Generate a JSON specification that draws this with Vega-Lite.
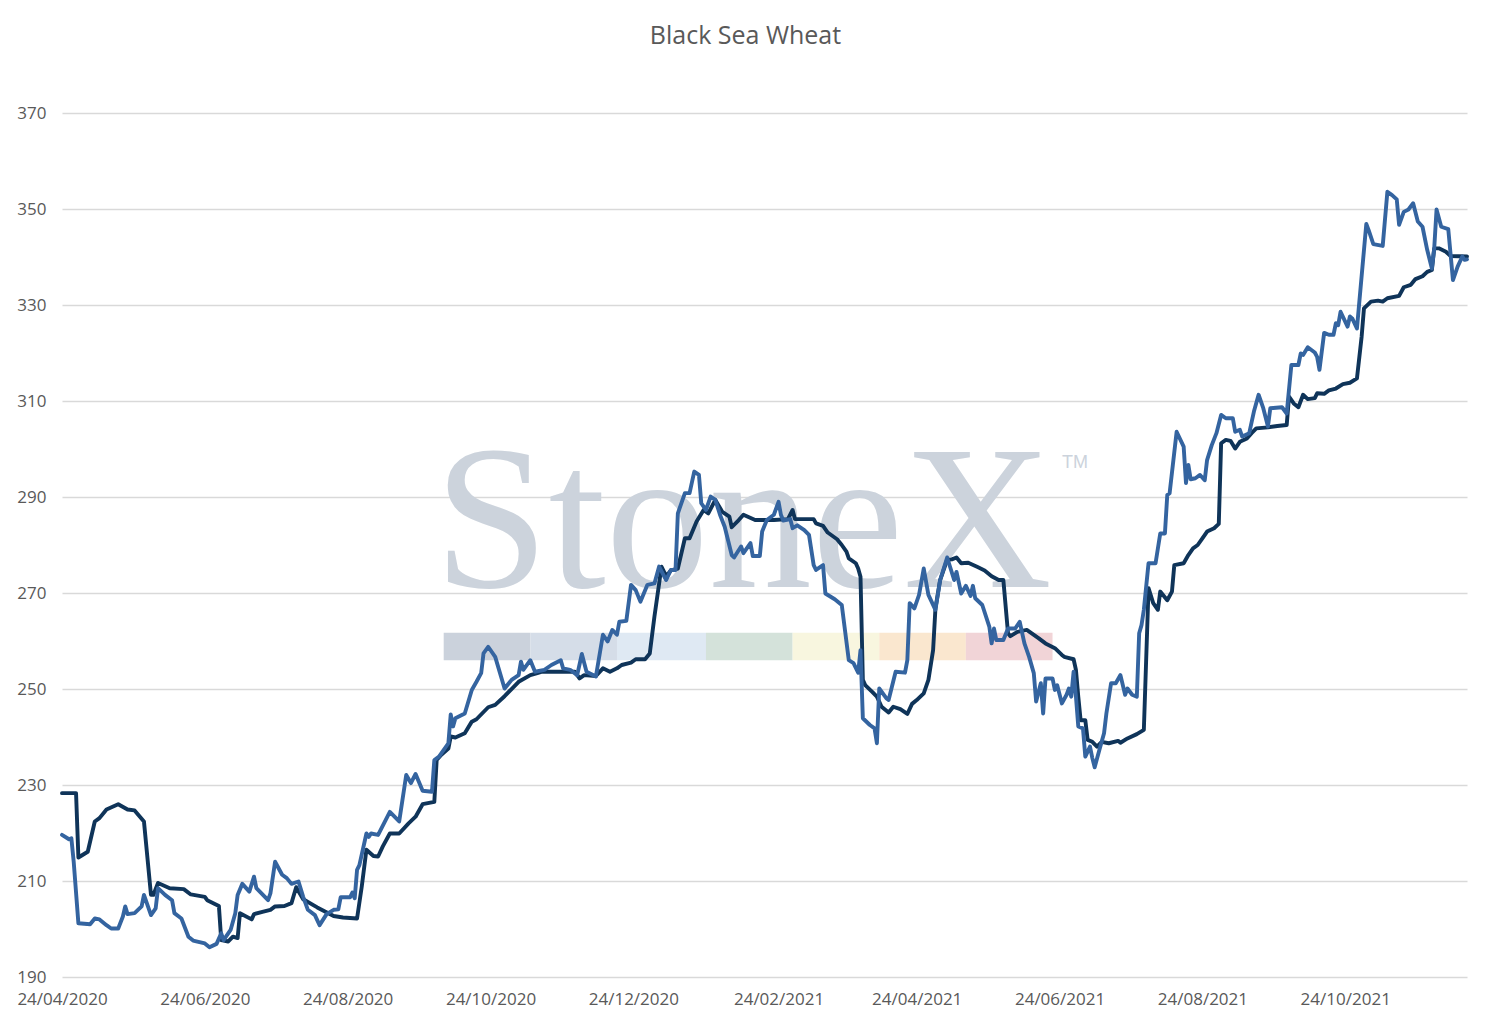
{
  "$schema": "https://vega.github.io/schema/vega-lite/v6.json",
  "width": 1405,
  "height": 864,
  "autosize": {"type": "none"},
  "padding": {"left": 62, "top": 113, "right": 24, "bottom": 50},
  "background": "white",
  "title": {"text": "Black Sea Wheat", "font": "Open Sans", "fontSize": 25, "fontWeight": "normal", "color": "#595959", "anchor": "middle", "dx": -19, "offset": 55},
  "config": {
    "view": {"stroke": null},
    "axis": {"labelFont": "Open Sans", "labelFontSize": 17, "labelColor": "#595959", "gridColor": "#d9d9d9", "gridWidth": 1.5, "domain": false, "ticks": false}
  },
  "resolve": {"scale": {"color": "independent"}},
  "datasets": {
    "band": [
      {"seg": "1", "start": "2020-10-04", "end": "2020-11-10"},
      {"seg": "2", "start": "2020-11-10", "end": "2020-12-17"},
      {"seg": "3", "start": "2020-12-17", "end": "2021-01-24"},
      {"seg": "4", "start": "2021-01-24", "end": "2021-03-02"},
      {"seg": "5", "start": "2021-03-02", "end": "2021-04-08"},
      {"seg": "6", "start": "2021-04-08", "end": "2021-05-15"},
      {"seg": "7", "start": "2021-05-15", "end": "2021-06-21"}
    ],
    "prices": [
      {"date": "2020-04-24", "series": "Series 1", "price": 228.3},
      {"date": "2020-04-30", "series": "Series 1", "price": 228.3},
      {"date": "2020-05-01", "series": "Series 1", "price": 214.9},
      {"date": "2020-05-05", "series": "Series 1", "price": 216.1},
      {"date": "2020-05-08", "series": "Series 1", "price": 222.4},
      {"date": "2020-05-10", "series": "Series 1", "price": 223.1},
      {"date": "2020-05-13", "series": "Series 1", "price": 224.9},
      {"date": "2020-05-18", "series": "Series 1", "price": 226.0},
      {"date": "2020-05-22", "series": "Series 1", "price": 224.9},
      {"date": "2020-05-25", "series": "Series 1", "price": 224.7},
      {"date": "2020-05-29", "series": "Series 1", "price": 222.4},
      {"date": "2020-06-01", "series": "Series 1", "price": 207.1},
      {"date": "2020-06-02", "series": "Series 1", "price": 207.1},
      {"date": "2020-06-04", "series": "Series 1", "price": 209.6},
      {"date": "2020-06-09", "series": "Series 1", "price": 208.5},
      {"date": "2020-06-15", "series": "Series 1", "price": 208.3},
      {"date": "2020-06-18", "series": "Series 1", "price": 207.2},
      {"date": "2020-06-24", "series": "Series 1", "price": 206.7},
      {"date": "2020-06-25", "series": "Series 1", "price": 206.0},
      {"date": "2020-06-30", "series": "Series 1", "price": 204.8},
      {"date": "2020-07-01", "series": "Series 1", "price": 197.7},
      {"date": "2020-07-04", "series": "Series 1", "price": 197.4},
      {"date": "2020-07-06", "series": "Series 1", "price": 198.4},
      {"date": "2020-07-08", "series": "Series 1", "price": 198.1},
      {"date": "2020-07-09", "series": "Series 1", "price": 203.3},
      {"date": "2020-07-14", "series": "Series 1", "price": 202.0},
      {"date": "2020-07-15", "series": "Series 1", "price": 203.1},
      {"date": "2020-07-19", "series": "Series 1", "price": 203.6},
      {"date": "2020-07-22", "series": "Series 1", "price": 204.0},
      {"date": "2020-07-24", "series": "Series 1", "price": 204.7},
      {"date": "2020-07-28", "series": "Series 1", "price": 204.8},
      {"date": "2020-07-31", "series": "Series 1", "price": 205.4},
      {"date": "2020-08-02", "series": "Series 1", "price": 208.7},
      {"date": "2020-08-05", "series": "Series 1", "price": 206.2},
      {"date": "2020-08-11", "series": "Series 1", "price": 204.5},
      {"date": "2020-08-18", "series": "Series 1", "price": 202.7},
      {"date": "2020-08-22", "series": "Series 1", "price": 202.4},
      {"date": "2020-08-28", "series": "Series 1", "price": 202.2},
      {"date": "2020-08-30", "series": "Series 1", "price": 208.8},
      {"date": "2020-09-01", "series": "Series 1", "price": 216.5},
      {"date": "2020-09-04", "series": "Series 1", "price": 215.2},
      {"date": "2020-09-06", "series": "Series 1", "price": 215.1},
      {"date": "2020-09-08", "series": "Series 1", "price": 217.2},
      {"date": "2020-09-11", "series": "Series 1", "price": 219.9},
      {"date": "2020-09-15", "series": "Series 1", "price": 219.9},
      {"date": "2020-09-19", "series": "Series 1", "price": 222.0},
      {"date": "2020-09-22", "series": "Series 1", "price": 223.4},
      {"date": "2020-09-25", "series": "Series 1", "price": 226.0},
      {"date": "2020-09-30", "series": "Series 1", "price": 226.5},
      {"date": "2020-10-01", "series": "Series 1", "price": 235.2},
      {"date": "2020-10-03", "series": "Series 1", "price": 236.3},
      {"date": "2020-10-06", "series": "Series 1", "price": 237.6},
      {"date": "2020-10-07", "series": "Series 1", "price": 240.1},
      {"date": "2020-10-09", "series": "Series 1", "price": 239.9},
      {"date": "2020-10-13", "series": "Series 1", "price": 240.8},
      {"date": "2020-10-16", "series": "Series 1", "price": 243.2},
      {"date": "2020-10-18", "series": "Series 1", "price": 243.7},
      {"date": "2020-10-23", "series": "Series 1", "price": 246.2},
      {"date": "2020-10-26", "series": "Series 1", "price": 246.7},
      {"date": "2020-10-30", "series": "Series 1", "price": 248.5},
      {"date": "2020-11-05", "series": "Series 1", "price": 251.5},
      {"date": "2020-11-10", "series": "Series 1", "price": 252.9},
      {"date": "2020-11-13", "series": "Series 1", "price": 253.3},
      {"date": "2020-11-15", "series": "Series 1", "price": 253.6},
      {"date": "2020-11-29", "series": "Series 1", "price": 253.6},
      {"date": "2020-12-01", "series": "Series 1", "price": 252.2},
      {"date": "2020-12-03", "series": "Series 1", "price": 252.9},
      {"date": "2020-12-08", "series": "Series 1", "price": 252.7},
      {"date": "2020-12-11", "series": "Series 1", "price": 254.3},
      {"date": "2020-12-14", "series": "Series 1", "price": 253.6},
      {"date": "2020-12-17", "series": "Series 1", "price": 254.3},
      {"date": "2020-12-19", "series": "Series 1", "price": 255.0},
      {"date": "2020-12-23", "series": "Series 1", "price": 255.5},
      {"date": "2020-12-25", "series": "Series 1", "price": 256.2},
      {"date": "2020-12-29", "series": "Series 1", "price": 256.2},
      {"date": "2020-12-31", "series": "Series 1", "price": 257.4},
      {"date": "2021-01-02", "series": "Series 1", "price": 265.1},
      {"date": "2021-01-04", "series": "Series 1", "price": 272.0},
      {"date": "2021-01-05", "series": "Series 1", "price": 275.5},
      {"date": "2021-01-07", "series": "Series 1", "price": 273.5},
      {"date": "2021-01-09", "series": "Series 1", "price": 274.7},
      {"date": "2021-01-12", "series": "Series 1", "price": 275.1},
      {"date": "2021-01-15", "series": "Series 1", "price": 281.4},
      {"date": "2021-01-17", "series": "Series 1", "price": 281.4},
      {"date": "2021-01-20", "series": "Series 1", "price": 284.9},
      {"date": "2021-01-23", "series": "Series 1", "price": 287.3},
      {"date": "2021-01-25", "series": "Series 1", "price": 286.6},
      {"date": "2021-01-28", "series": "Series 1", "price": 289.4},
      {"date": "2021-01-31", "series": "Series 1", "price": 286.9},
      {"date": "2021-02-03", "series": "Series 1", "price": 285.9},
      {"date": "2021-02-04", "series": "Series 1", "price": 283.7},
      {"date": "2021-02-07", "series": "Series 1", "price": 285.2},
      {"date": "2021-02-09", "series": "Series 1", "price": 286.3},
      {"date": "2021-02-14", "series": "Series 1", "price": 285.2},
      {"date": "2021-02-18", "series": "Series 1", "price": 285.2},
      {"date": "2021-02-22", "series": "Series 1", "price": 285.2},
      {"date": "2021-02-28", "series": "Series 1", "price": 285.4},
      {"date": "2021-03-02", "series": "Series 1", "price": 287.3},
      {"date": "2021-03-03", "series": "Series 1", "price": 285.4},
      {"date": "2021-03-06", "series": "Series 1", "price": 285.4},
      {"date": "2021-03-11", "series": "Series 1", "price": 285.4},
      {"date": "2021-03-12", "series": "Series 1", "price": 284.5},
      {"date": "2021-03-15", "series": "Series 1", "price": 284.0},
      {"date": "2021-03-17", "series": "Series 1", "price": 282.6},
      {"date": "2021-03-21", "series": "Series 1", "price": 281.2},
      {"date": "2021-03-23", "series": "Series 1", "price": 280.0},
      {"date": "2021-03-25", "series": "Series 1", "price": 278.6},
      {"date": "2021-03-26", "series": "Series 1", "price": 277.2},
      {"date": "2021-03-29", "series": "Series 1", "price": 276.2},
      {"date": "2021-03-30", "series": "Series 1", "price": 275.1},
      {"date": "2021-03-31", "series": "Series 1", "price": 273.4},
      {"date": "2021-04-01", "series": "Series 1", "price": 251.9},
      {"date": "2021-04-02", "series": "Series 1", "price": 250.8},
      {"date": "2021-04-05", "series": "Series 1", "price": 249.4},
      {"date": "2021-04-07", "series": "Series 1", "price": 248.4},
      {"date": "2021-04-09", "series": "Series 1", "price": 246.3},
      {"date": "2021-04-12", "series": "Series 1", "price": 245.1},
      {"date": "2021-04-14", "series": "Series 1", "price": 246.3},
      {"date": "2021-04-17", "series": "Series 1", "price": 245.8},
      {"date": "2021-04-20", "series": "Series 1", "price": 244.8},
      {"date": "2021-04-22", "series": "Series 1", "price": 246.9},
      {"date": "2021-04-24", "series": "Series 1", "price": 247.7},
      {"date": "2021-04-27", "series": "Series 1", "price": 249.1},
      {"date": "2021-04-29", "series": "Series 1", "price": 251.9},
      {"date": "2021-05-01", "series": "Series 1", "price": 258.1},
      {"date": "2021-05-02", "series": "Series 1", "price": 266.8},
      {"date": "2021-05-04", "series": "Series 1", "price": 272.7},
      {"date": "2021-05-07", "series": "Series 1", "price": 276.9},
      {"date": "2021-05-09", "series": "Series 1", "price": 277.0},
      {"date": "2021-05-11", "series": "Series 1", "price": 277.4},
      {"date": "2021-05-13", "series": "Series 1", "price": 276.2},
      {"date": "2021-05-16", "series": "Series 1", "price": 276.3},
      {"date": "2021-05-20", "series": "Series 1", "price": 275.4},
      {"date": "2021-05-23", "series": "Series 1", "price": 274.7},
      {"date": "2021-05-26", "series": "Series 1", "price": 273.5},
      {"date": "2021-05-29", "series": "Series 1", "price": 272.7},
      {"date": "2021-05-31", "series": "Series 1", "price": 272.7},
      {"date": "2021-06-02", "series": "Series 1", "price": 261.6},
      {"date": "2021-06-03", "series": "Series 1", "price": 261.0},
      {"date": "2021-06-06", "series": "Series 1", "price": 261.9},
      {"date": "2021-06-10", "series": "Series 1", "price": 262.3},
      {"date": "2021-06-15", "series": "Series 1", "price": 260.6},
      {"date": "2021-06-18", "series": "Series 1", "price": 259.5},
      {"date": "2021-06-22", "series": "Series 1", "price": 258.5},
      {"date": "2021-06-25", "series": "Series 1", "price": 257.1},
      {"date": "2021-06-26", "series": "Series 1", "price": 256.7},
      {"date": "2021-06-30", "series": "Series 1", "price": 256.2},
      {"date": "2021-07-01", "series": "Series 1", "price": 254.0},
      {"date": "2021-07-02", "series": "Series 1", "price": 248.4},
      {"date": "2021-07-03", "series": "Series 1", "price": 243.5},
      {"date": "2021-07-05", "series": "Series 1", "price": 243.5},
      {"date": "2021-07-06", "series": "Series 1", "price": 239.4},
      {"date": "2021-07-08", "series": "Series 1", "price": 239.0},
      {"date": "2021-07-10", "series": "Series 1", "price": 238.0},
      {"date": "2021-07-12", "series": "Series 1", "price": 239.0},
      {"date": "2021-07-15", "series": "Series 1", "price": 238.7},
      {"date": "2021-07-19", "series": "Series 1", "price": 239.2},
      {"date": "2021-07-20", "series": "Series 1", "price": 238.8},
      {"date": "2021-07-23", "series": "Series 1", "price": 239.7},
      {"date": "2021-07-27", "series": "Series 1", "price": 240.6},
      {"date": "2021-07-30", "series": "Series 1", "price": 241.5},
      {"date": "2021-08-01", "series": "Series 1", "price": 271.0},
      {"date": "2021-08-03", "series": "Series 1", "price": 267.9},
      {"date": "2021-08-05", "series": "Series 1", "price": 266.5},
      {"date": "2021-08-06", "series": "Series 1", "price": 270.3},
      {"date": "2021-08-09", "series": "Series 1", "price": 268.5},
      {"date": "2021-08-11", "series": "Series 1", "price": 270.3},
      {"date": "2021-08-12", "series": "Series 1", "price": 275.8},
      {"date": "2021-08-16", "series": "Series 1", "price": 276.2},
      {"date": "2021-08-18", "series": "Series 1", "price": 277.9},
      {"date": "2021-08-20", "series": "Series 1", "price": 279.3},
      {"date": "2021-08-22", "series": "Series 1", "price": 280.0},
      {"date": "2021-08-24", "series": "Series 1", "price": 281.4},
      {"date": "2021-08-26", "series": "Series 1", "price": 282.8},
      {"date": "2021-08-29", "series": "Series 1", "price": 283.5},
      {"date": "2021-08-31", "series": "Series 1", "price": 284.4},
      {"date": "2021-09-01", "series": "Series 1", "price": 301.2},
      {"date": "2021-09-03", "series": "Series 1", "price": 301.9},
      {"date": "2021-09-05", "series": "Series 1", "price": 301.7},
      {"date": "2021-09-07", "series": "Series 1", "price": 300.1},
      {"date": "2021-09-09", "series": "Series 1", "price": 301.5},
      {"date": "2021-09-12", "series": "Series 1", "price": 302.2},
      {"date": "2021-09-14", "series": "Series 1", "price": 303.3},
      {"date": "2021-09-16", "series": "Series 1", "price": 304.3},
      {"date": "2021-09-21", "series": "Series 1", "price": 304.5},
      {"date": "2021-09-25", "series": "Series 1", "price": 304.8},
      {"date": "2021-09-29", "series": "Series 1", "price": 305.0},
      {"date": "2021-09-30", "series": "Series 1", "price": 310.9},
      {"date": "2021-10-02", "series": "Series 1", "price": 309.5},
      {"date": "2021-10-04", "series": "Series 1", "price": 308.7},
      {"date": "2021-10-06", "series": "Series 1", "price": 311.3},
      {"date": "2021-10-08", "series": "Series 1", "price": 310.4},
      {"date": "2021-10-11", "series": "Series 1", "price": 310.6},
      {"date": "2021-10-12", "series": "Series 1", "price": 311.6},
      {"date": "2021-10-15", "series": "Series 1", "price": 311.5},
      {"date": "2021-10-17", "series": "Series 1", "price": 312.2},
      {"date": "2021-10-20", "series": "Series 1", "price": 312.6},
      {"date": "2021-10-23", "series": "Series 1", "price": 313.5},
      {"date": "2021-10-26", "series": "Series 1", "price": 313.8},
      {"date": "2021-10-29", "series": "Series 1", "price": 314.7},
      {"date": "2021-10-31", "series": "Series 1", "price": 323.4},
      {"date": "2021-11-01", "series": "Series 1", "price": 329.3},
      {"date": "2021-11-04", "series": "Series 1", "price": 330.7},
      {"date": "2021-11-07", "series": "Series 1", "price": 330.9},
      {"date": "2021-11-09", "series": "Series 1", "price": 330.7},
      {"date": "2021-11-11", "series": "Series 1", "price": 331.4},
      {"date": "2021-11-16", "series": "Series 1", "price": 331.9},
      {"date": "2021-11-18", "series": "Series 1", "price": 333.7},
      {"date": "2021-11-21", "series": "Series 1", "price": 334.2},
      {"date": "2021-11-23", "series": "Series 1", "price": 335.4},
      {"date": "2021-11-26", "series": "Series 1", "price": 336.0},
      {"date": "2021-11-28", "series": "Series 1", "price": 336.9},
      {"date": "2021-11-30", "series": "Series 1", "price": 337.3},
      {"date": "2021-12-01", "series": "Series 1", "price": 341.8},
      {"date": "2021-12-03", "series": "Series 1", "price": 341.8},
      {"date": "2021-12-06", "series": "Series 1", "price": 341.1},
      {"date": "2021-12-08", "series": "Series 1", "price": 340.2},
      {"date": "2021-12-15", "series": "Series 1", "price": 340.1},
      {"date": "2020-04-24", "series": "Series 2", "price": 219.6},
      {"date": "2020-04-27", "series": "Series 2", "price": 218.7},
      {"date": "2020-04-28", "series": "Series 2", "price": 218.9},
      {"date": "2020-04-29", "series": "Series 2", "price": 214.0},
      {"date": "2020-05-01", "series": "Series 2", "price": 201.2},
      {"date": "2020-05-06", "series": "Series 2", "price": 201.0},
      {"date": "2020-05-08", "series": "Series 2", "price": 202.2},
      {"date": "2020-05-10", "series": "Series 2", "price": 202.0},
      {"date": "2020-05-13", "series": "Series 2", "price": 200.8},
      {"date": "2020-05-15", "series": "Series 2", "price": 200.1},
      {"date": "2020-05-18", "series": "Series 2", "price": 200.1},
      {"date": "2020-05-20", "series": "Series 2", "price": 202.6},
      {"date": "2020-05-21", "series": "Series 2", "price": 204.7},
      {"date": "2020-05-22", "series": "Series 2", "price": 203.1},
      {"date": "2020-05-25", "series": "Series 2", "price": 203.3},
      {"date": "2020-05-28", "series": "Series 2", "price": 204.7},
      {"date": "2020-05-29", "series": "Series 2", "price": 207.1},
      {"date": "2020-06-01", "series": "Series 2", "price": 202.9},
      {"date": "2020-06-03", "series": "Series 2", "price": 204.3},
      {"date": "2020-06-04", "series": "Series 2", "price": 208.5},
      {"date": "2020-06-07", "series": "Series 2", "price": 207.1},
      {"date": "2020-06-10", "series": "Series 2", "price": 206.0},
      {"date": "2020-06-11", "series": "Series 2", "price": 203.3},
      {"date": "2020-06-14", "series": "Series 2", "price": 202.2},
      {"date": "2020-06-17", "series": "Series 2", "price": 198.4},
      {"date": "2020-06-19", "series": "Series 2", "price": 197.6},
      {"date": "2020-06-24", "series": "Series 2", "price": 197.0},
      {"date": "2020-06-26", "series": "Series 2", "price": 196.2},
      {"date": "2020-06-29", "series": "Series 2", "price": 196.9},
      {"date": "2020-07-01", "series": "Series 2", "price": 199.1},
      {"date": "2020-07-02", "series": "Series 2", "price": 197.7},
      {"date": "2020-07-05", "series": "Series 2", "price": 199.8},
      {"date": "2020-07-07", "series": "Series 2", "price": 203.3},
      {"date": "2020-07-08", "series": "Series 2", "price": 207.1},
      {"date": "2020-07-10", "series": "Series 2", "price": 209.4},
      {"date": "2020-07-13", "series": "Series 2", "price": 207.8},
      {"date": "2020-07-15", "series": "Series 2", "price": 210.9},
      {"date": "2020-07-16", "series": "Series 2", "price": 208.5},
      {"date": "2020-07-21", "series": "Series 2", "price": 206.0},
      {"date": "2020-07-22", "series": "Series 2", "price": 207.4},
      {"date": "2020-07-24", "series": "Series 2", "price": 214.0},
      {"date": "2020-07-27", "series": "Series 2", "price": 211.3},
      {"date": "2020-07-29", "series": "Series 2", "price": 210.6},
      {"date": "2020-07-31", "series": "Series 2", "price": 209.4},
      {"date": "2020-08-03", "series": "Series 2", "price": 209.9},
      {"date": "2020-08-05", "series": "Series 2", "price": 206.7},
      {"date": "2020-08-07", "series": "Series 2", "price": 204.0},
      {"date": "2020-08-10", "series": "Series 2", "price": 202.9},
      {"date": "2020-08-12", "series": "Series 2", "price": 200.8},
      {"date": "2020-08-15", "series": "Series 2", "price": 203.1},
      {"date": "2020-08-18", "series": "Series 2", "price": 204.0},
      {"date": "2020-08-20", "series": "Series 2", "price": 204.1},
      {"date": "2020-08-21", "series": "Series 2", "price": 206.6},
      {"date": "2020-08-25", "series": "Series 2", "price": 206.6},
      {"date": "2020-08-26", "series": "Series 2", "price": 207.6},
      {"date": "2020-08-27", "series": "Series 2", "price": 206.4},
      {"date": "2020-08-28", "series": "Series 2", "price": 212.3},
      {"date": "2020-08-29", "series": "Series 2", "price": 213.3},
      {"date": "2020-09-01", "series": "Series 2", "price": 219.9},
      {"date": "2020-09-02", "series": "Series 2", "price": 219.2},
      {"date": "2020-09-03", "series": "Series 2", "price": 219.9},
      {"date": "2020-09-06", "series": "Series 2", "price": 219.6},
      {"date": "2020-09-11", "series": "Series 2", "price": 224.4},
      {"date": "2020-09-15", "series": "Series 2", "price": 222.4},
      {"date": "2020-09-18", "series": "Series 2", "price": 232.1},
      {"date": "2020-09-20", "series": "Series 2", "price": 230.4},
      {"date": "2020-09-22", "series": "Series 2", "price": 232.3},
      {"date": "2020-09-25", "series": "Series 2", "price": 228.8},
      {"date": "2020-09-29", "series": "Series 2", "price": 228.6},
      {"date": "2020-09-30", "series": "Series 2", "price": 235.2},
      {"date": "2020-10-02", "series": "Series 2", "price": 235.9},
      {"date": "2020-10-06", "series": "Series 2", "price": 238.7},
      {"date": "2020-10-07", "series": "Series 2", "price": 244.7},
      {"date": "2020-10-08", "series": "Series 2", "price": 242.2},
      {"date": "2020-10-09", "series": "Series 2", "price": 243.9},
      {"date": "2020-10-13", "series": "Series 2", "price": 244.9},
      {"date": "2020-10-16", "series": "Series 2", "price": 249.8},
      {"date": "2020-10-18", "series": "Series 2", "price": 251.5},
      {"date": "2020-10-20", "series": "Series 2", "price": 253.3},
      {"date": "2020-10-21", "series": "Series 2", "price": 257.4},
      {"date": "2020-10-23", "series": "Series 2", "price": 258.8},
      {"date": "2020-10-26", "series": "Series 2", "price": 256.7},
      {"date": "2020-10-30", "series": "Series 2", "price": 250.1},
      {"date": "2020-11-02", "series": "Series 2", "price": 251.9},
      {"date": "2020-11-05", "series": "Series 2", "price": 252.9},
      {"date": "2020-11-06", "series": "Series 2", "price": 255.7},
      {"date": "2020-11-07", "series": "Series 2", "price": 254.0},
      {"date": "2020-11-10", "series": "Series 2", "price": 256.0},
      {"date": "2020-11-12", "series": "Series 2", "price": 253.6},
      {"date": "2020-11-16", "series": "Series 2", "price": 254.0},
      {"date": "2020-11-19", "series": "Series 2", "price": 255.0},
      {"date": "2020-11-23", "series": "Series 2", "price": 256.0},
      {"date": "2020-11-24", "series": "Series 2", "price": 254.3},
      {"date": "2020-11-27", "series": "Series 2", "price": 254.0},
      {"date": "2020-11-30", "series": "Series 2", "price": 252.9},
      {"date": "2020-12-02", "series": "Series 2", "price": 257.3},
      {"date": "2020-12-04", "series": "Series 2", "price": 253.6},
      {"date": "2020-12-08", "series": "Series 2", "price": 252.6},
      {"date": "2020-12-11", "series": "Series 2", "price": 261.3},
      {"date": "2020-12-13", "series": "Series 2", "price": 259.9},
      {"date": "2020-12-15", "series": "Series 2", "price": 262.3},
      {"date": "2020-12-17", "series": "Series 2", "price": 261.3},
      {"date": "2020-12-18", "series": "Series 2", "price": 264.0},
      {"date": "2020-12-21", "series": "Series 2", "price": 264.2},
      {"date": "2020-12-23", "series": "Series 2", "price": 271.7},
      {"date": "2020-12-25", "series": "Series 2", "price": 270.6},
      {"date": "2020-12-27", "series": "Series 2", "price": 268.2},
      {"date": "2020-12-30", "series": "Series 2", "price": 271.7},
      {"date": "2021-01-02", "series": "Series 2", "price": 272.0},
      {"date": "2021-01-04", "series": "Series 2", "price": 275.5},
      {"date": "2021-01-07", "series": "Series 2", "price": 272.7},
      {"date": "2021-01-09", "series": "Series 2", "price": 274.8},
      {"date": "2021-01-11", "series": "Series 2", "price": 274.8},
      {"date": "2021-01-12", "series": "Series 2", "price": 286.6},
      {"date": "2021-01-15", "series": "Series 2", "price": 290.8},
      {"date": "2021-01-17", "series": "Series 2", "price": 290.8},
      {"date": "2021-01-19", "series": "Series 2", "price": 295.3},
      {"date": "2021-01-21", "series": "Series 2", "price": 294.6},
      {"date": "2021-01-22", "series": "Series 2", "price": 288.7},
      {"date": "2021-01-24", "series": "Series 2", "price": 287.3},
      {"date": "2021-01-26", "series": "Series 2", "price": 290.1},
      {"date": "2021-01-28", "series": "Series 2", "price": 289.4},
      {"date": "2021-01-30", "series": "Series 2", "price": 286.3},
      {"date": "2021-02-01", "series": "Series 2", "price": 283.8},
      {"date": "2021-02-04", "series": "Series 2", "price": 277.9},
      {"date": "2021-02-05", "series": "Series 2", "price": 277.4},
      {"date": "2021-02-08", "series": "Series 2", "price": 279.7},
      {"date": "2021-02-09", "series": "Series 2", "price": 278.3},
      {"date": "2021-02-12", "series": "Series 2", "price": 280.4},
      {"date": "2021-02-13", "series": "Series 2", "price": 277.7},
      {"date": "2021-02-16", "series": "Series 2", "price": 277.7},
      {"date": "2021-02-17", "series": "Series 2", "price": 282.8},
      {"date": "2021-02-19", "series": "Series 2", "price": 285.2},
      {"date": "2021-02-22", "series": "Series 2", "price": 286.3},
      {"date": "2021-02-24", "series": "Series 2", "price": 289.0},
      {"date": "2021-02-25", "series": "Series 2", "price": 286.3},
      {"date": "2021-02-26", "series": "Series 2", "price": 285.1},
      {"date": "2021-03-01", "series": "Series 2", "price": 285.4},
      {"date": "2021-03-02", "series": "Series 2", "price": 283.5},
      {"date": "2021-03-04", "series": "Series 2", "price": 284.1},
      {"date": "2021-03-07", "series": "Series 2", "price": 283.1},
      {"date": "2021-03-09", "series": "Series 2", "price": 282.1},
      {"date": "2021-03-11", "series": "Series 2", "price": 275.8},
      {"date": "2021-03-12", "series": "Series 2", "price": 274.8},
      {"date": "2021-03-15", "series": "Series 2", "price": 275.8},
      {"date": "2021-03-16", "series": "Series 2", "price": 269.9},
      {"date": "2021-03-20", "series": "Series 2", "price": 268.7},
      {"date": "2021-03-23", "series": "Series 2", "price": 267.5},
      {"date": "2021-03-26", "series": "Series 2", "price": 256.0},
      {"date": "2021-03-28", "series": "Series 2", "price": 255.4},
      {"date": "2021-03-30", "series": "Series 2", "price": 253.4},
      {"date": "2021-03-31", "series": "Series 2", "price": 258.1},
      {"date": "2021-04-01", "series": "Series 2", "price": 243.9},
      {"date": "2021-04-04", "series": "Series 2", "price": 242.5},
      {"date": "2021-04-06", "series": "Series 2", "price": 241.8},
      {"date": "2021-04-07", "series": "Series 2", "price": 238.7},
      {"date": "2021-04-08", "series": "Series 2", "price": 250.1},
      {"date": "2021-04-11", "series": "Series 2", "price": 248.1},
      {"date": "2021-04-12", "series": "Series 2", "price": 247.7},
      {"date": "2021-04-15", "series": "Series 2", "price": 253.6},
      {"date": "2021-04-19", "series": "Series 2", "price": 253.4},
      {"date": "2021-04-20", "series": "Series 2", "price": 256.0},
      {"date": "2021-04-21", "series": "Series 2", "price": 267.9},
      {"date": "2021-04-23", "series": "Series 2", "price": 266.8},
      {"date": "2021-04-25", "series": "Series 2", "price": 269.6},
      {"date": "2021-04-27", "series": "Series 2", "price": 275.1},
      {"date": "2021-04-29", "series": "Series 2", "price": 269.6},
      {"date": "2021-05-02", "series": "Series 2", "price": 266.5},
      {"date": "2021-05-04", "series": "Series 2", "price": 272.7},
      {"date": "2021-05-07", "series": "Series 2", "price": 277.4},
      {"date": "2021-05-10", "series": "Series 2", "price": 272.7},
      {"date": "2021-05-11", "series": "Series 2", "price": 274.4},
      {"date": "2021-05-13", "series": "Series 2", "price": 269.9},
      {"date": "2021-05-15", "series": "Series 2", "price": 271.5},
      {"date": "2021-05-17", "series": "Series 2", "price": 269.4},
      {"date": "2021-05-18", "series": "Series 2", "price": 271.5},
      {"date": "2021-05-19", "series": "Series 2", "price": 268.9},
      {"date": "2021-05-22", "series": "Series 2", "price": 267.5},
      {"date": "2021-05-25", "series": "Series 2", "price": 263.0},
      {"date": "2021-05-26", "series": "Series 2", "price": 259.5},
      {"date": "2021-05-27", "series": "Series 2", "price": 262.6},
      {"date": "2021-05-28", "series": "Series 2", "price": 260.2},
      {"date": "2021-05-31", "series": "Series 2", "price": 260.2},
      {"date": "2021-06-02", "series": "Series 2", "price": 262.6},
      {"date": "2021-06-05", "series": "Series 2", "price": 262.6},
      {"date": "2021-06-07", "series": "Series 2", "price": 264.0},
      {"date": "2021-06-09", "series": "Series 2", "price": 259.5},
      {"date": "2021-06-11", "series": "Series 2", "price": 256.7},
      {"date": "2021-06-13", "series": "Series 2", "price": 253.3},
      {"date": "2021-06-14", "series": "Series 2", "price": 247.4},
      {"date": "2021-06-16", "series": "Series 2", "price": 251.2},
      {"date": "2021-06-17", "series": "Series 2", "price": 244.9},
      {"date": "2021-06-18", "series": "Series 2", "price": 252.2},
      {"date": "2021-06-21", "series": "Series 2", "price": 252.2},
      {"date": "2021-06-22", "series": "Series 2", "price": 249.8},
      {"date": "2021-06-23", "series": "Series 2", "price": 250.8},
      {"date": "2021-06-25", "series": "Series 2", "price": 247.0},
      {"date": "2021-06-27", "series": "Series 2", "price": 248.8},
      {"date": "2021-06-28", "series": "Series 2", "price": 250.1},
      {"date": "2021-06-29", "series": "Series 2", "price": 248.4},
      {"date": "2021-06-30", "series": "Series 2", "price": 253.6},
      {"date": "2021-07-01", "series": "Series 2", "price": 248.4},
      {"date": "2021-07-02", "series": "Series 2", "price": 242.2},
      {"date": "2021-07-04", "series": "Series 2", "price": 241.8},
      {"date": "2021-07-05", "series": "Series 2", "price": 235.9},
      {"date": "2021-07-07", "series": "Series 2", "price": 238.0},
      {"date": "2021-07-08", "series": "Series 2", "price": 235.6},
      {"date": "2021-07-09", "series": "Series 2", "price": 233.7},
      {"date": "2021-07-11", "series": "Series 2", "price": 237.3},
      {"date": "2021-07-13", "series": "Series 2", "price": 240.8},
      {"date": "2021-07-14", "series": "Series 2", "price": 244.9},
      {"date": "2021-07-16", "series": "Series 2", "price": 251.2},
      {"date": "2021-07-18", "series": "Series 2", "price": 251.2},
      {"date": "2021-07-20", "series": "Series 2", "price": 252.9},
      {"date": "2021-07-22", "series": "Series 2", "price": 248.8},
      {"date": "2021-07-23", "series": "Series 2", "price": 250.1},
      {"date": "2021-07-25", "series": "Series 2", "price": 248.8},
      {"date": "2021-07-27", "series": "Series 2", "price": 248.4},
      {"date": "2021-07-28", "series": "Series 2", "price": 261.6},
      {"date": "2021-07-29", "series": "Series 2", "price": 263.3},
      {"date": "2021-07-30", "series": "Series 2", "price": 266.5},
      {"date": "2021-08-01", "series": "Series 2", "price": 276.2},
      {"date": "2021-08-04", "series": "Series 2", "price": 276.2},
      {"date": "2021-08-06", "series": "Series 2", "price": 282.4},
      {"date": "2021-08-08", "series": "Series 2", "price": 282.4},
      {"date": "2021-08-09", "series": "Series 2", "price": 290.4},
      {"date": "2021-08-10", "series": "Series 2", "price": 290.8},
      {"date": "2021-08-13", "series": "Series 2", "price": 303.6},
      {"date": "2021-08-16", "series": "Series 2", "price": 300.5},
      {"date": "2021-08-17", "series": "Series 2", "price": 292.9},
      {"date": "2021-08-18", "series": "Series 2", "price": 296.7},
      {"date": "2021-08-19", "series": "Series 2", "price": 293.7},
      {"date": "2021-08-21", "series": "Series 2", "price": 293.9},
      {"date": "2021-08-23", "series": "Series 2", "price": 294.6},
      {"date": "2021-08-25", "series": "Series 2", "price": 293.5},
      {"date": "2021-08-26", "series": "Series 2", "price": 297.7},
      {"date": "2021-08-28", "series": "Series 2", "price": 300.8},
      {"date": "2021-08-30", "series": "Series 2", "price": 303.3},
      {"date": "2021-09-01", "series": "Series 2", "price": 307.1},
      {"date": "2021-09-03", "series": "Series 2", "price": 306.4},
      {"date": "2021-09-06", "series": "Series 2", "price": 306.4},
      {"date": "2021-09-07", "series": "Series 2", "price": 303.6},
      {"date": "2021-09-09", "series": "Series 2", "price": 304.0},
      {"date": "2021-09-10", "series": "Series 2", "price": 302.6},
      {"date": "2021-09-13", "series": "Series 2", "price": 303.3},
      {"date": "2021-09-15", "series": "Series 2", "price": 307.8},
      {"date": "2021-09-17", "series": "Series 2", "price": 311.3},
      {"date": "2021-09-19", "series": "Series 2", "price": 308.5},
      {"date": "2021-09-21", "series": "Series 2", "price": 304.7},
      {"date": "2021-09-22", "series": "Series 2", "price": 308.5},
      {"date": "2021-09-27", "series": "Series 2", "price": 308.7},
      {"date": "2021-09-29", "series": "Series 2", "price": 307.4},
      {"date": "2021-10-01", "series": "Series 2", "price": 317.5},
      {"date": "2021-10-04", "series": "Series 2", "price": 317.5},
      {"date": "2021-10-05", "series": "Series 2", "price": 319.9},
      {"date": "2021-10-06", "series": "Series 2", "price": 319.6},
      {"date": "2021-10-08", "series": "Series 2", "price": 321.2},
      {"date": "2021-10-11", "series": "Series 2", "price": 320.1},
      {"date": "2021-10-12", "series": "Series 2", "price": 319.2},
      {"date": "2021-10-13", "series": "Series 2", "price": 316.5},
      {"date": "2021-10-15", "series": "Series 2", "price": 324.2},
      {"date": "2021-10-17", "series": "Series 2", "price": 323.8},
      {"date": "2021-10-19", "series": "Series 2", "price": 323.8},
      {"date": "2021-10-20", "series": "Series 2", "price": 326.2},
      {"date": "2021-10-21", "series": "Series 2", "price": 325.8},
      {"date": "2021-10-22", "series": "Series 2", "price": 328.6},
      {"date": "2021-10-25", "series": "Series 2", "price": 325.5},
      {"date": "2021-10-26", "series": "Series 2", "price": 327.6},
      {"date": "2021-10-27", "series": "Series 2", "price": 327.2},
      {"date": "2021-10-29", "series": "Series 2", "price": 325.1},
      {"date": "2021-11-02", "series": "Series 2", "price": 346.9},
      {"date": "2021-11-03", "series": "Series 2", "price": 345.6},
      {"date": "2021-11-05", "series": "Series 2", "price": 342.7},
      {"date": "2021-11-09", "series": "Series 2", "price": 342.3},
      {"date": "2021-11-11", "series": "Series 2", "price": 353.6},
      {"date": "2021-11-13", "series": "Series 2", "price": 352.9},
      {"date": "2021-11-15", "series": "Series 2", "price": 352.0},
      {"date": "2021-11-16", "series": "Series 2", "price": 346.7},
      {"date": "2021-11-18", "series": "Series 2", "price": 349.4},
      {"date": "2021-11-20", "series": "Series 2", "price": 349.9},
      {"date": "2021-11-22", "series": "Series 2", "price": 351.2},
      {"date": "2021-11-24", "series": "Series 2", "price": 347.4},
      {"date": "2021-11-26", "series": "Series 2", "price": 346.3},
      {"date": "2021-11-28", "series": "Series 2", "price": 341.5},
      {"date": "2021-11-30", "series": "Series 2", "price": 337.6},
      {"date": "2021-12-01", "series": "Series 2", "price": 341.8},
      {"date": "2021-12-02", "series": "Series 2", "price": 349.9},
      {"date": "2021-12-04", "series": "Series 2", "price": 346.3},
      {"date": "2021-12-07", "series": "Series 2", "price": 345.8},
      {"date": "2021-12-09", "series": "Series 2", "price": 335.2},
      {"date": "2021-12-11", "series": "Series 2", "price": 338.0},
      {"date": "2021-12-13", "series": "Series 2", "price": 340.1},
      {"date": "2021-12-14", "series": "Series 2", "price": 339.4},
      {"date": "2021-12-15", "series": "Series 2", "price": 339.5}
    ]
  },
  "layer": [
    {
      "data": {"name": "band"},
      "mark": {"type": "rect"},
      "encoding": {
        "x": {"field": "start", "type": "temporal", "title": null},
        "x2": {"field": "end"},
        "y": {"datum": 256.0, "type": "quantitative"},
        "y2": {"datum": 261.7},
        "color": {"field": "seg", "type": "nominal", "legend": null,
          "scale": {"domain": ["1", "2", "3", "4", "5", "6", "7"], "range": ["#cbd2dc", "#d5dde8", "#dfe9f3", "#d4e2da", "#f8f6df", "#fae7cf", "#f1d4d7"]}}
      }
    },
    {
      "data": {"values": [{}]},
      "mark": {"type": "text", "text": "StoneX", "font": "Liberation Serif", "fontSize": 206, "color": "#ccd3dc", "align": "center", "baseline": "alphabetic"},
      "encoding": {
        "x": {"datum": {"year": 2021, "month": 2, "date": 8, "hours": 20, "utc": true}, "type": "temporal"},
        "y": {"datum": 271.25, "type": "quantitative"}
      }
    },
    {
      "data": {"values": [{}]},
      "mark": {"type": "text", "text": "TM", "font": "Liberation Sans", "fontSize": 18, "color": "#ccd3dc", "align": "left", "baseline": "alphabetic"},
      "encoding": {
        "x": {"datum": {"year": 2021, "month": 6, "date": 25, "utc": true}, "type": "temporal"},
        "y": {"datum": 296.0, "type": "quantitative"}
      }
    },
    {
      "data": {"name": "prices"},
      "mark": {"type": "line", "strokeWidth": 3.9, "strokeJoin": "round", "strokeCap": "round"},
      "encoding": {
        "x": {"field": "date", "type": "temporal", "title": null,
          "scale": {"type": "utc", "domain": [{"year": 2020, "month": 4, "date": 24, "utc": true}, {"year": 2021, "month": 12, "date": 15, "utc": true}]},
          "axis": {"format": "%d/%m/%Y", "grid": false, "labelFlush": false, "labelPadding": 14, "labelOverlap": false,
            "values": [
              {"year": 2020, "month": 4, "date": 24, "utc": true},
              {"year": 2020, "month": 6, "date": 24, "utc": true},
              {"year": 2020, "month": 8, "date": 24, "utc": true},
              {"year": 2020, "month": 10, "date": 24, "utc": true},
              {"year": 2020, "month": 12, "date": 24, "utc": true},
              {"year": 2021, "month": 2, "date": 24, "utc": true},
              {"year": 2021, "month": 4, "date": 24, "utc": true},
              {"year": 2021, "month": 6, "date": 24, "utc": true},
              {"year": 2021, "month": 8, "date": 24, "utc": true},
              {"year": 2021, "month": 10, "date": 24, "utc": true}
            ]}},
        "y": {"field": "price", "type": "quantitative", "title": null,
          "scale": {"domain": [190, 370], "nice": false, "zero": false},
          "axis": {"values": [190, 210, 230, 250, 270, 290, 310, 330, 350, 370], "grid": true, "labelPadding": 16}},
        "color": {"field": "series", "type": "nominal", "legend": null,
          "scale": {"domain": ["Series 1", "Series 2"], "range": ["#0f3459", "#3464a0"]}},
        "order": {"field": "date", "type": "temporal"}
      }
    }
  ]
}
